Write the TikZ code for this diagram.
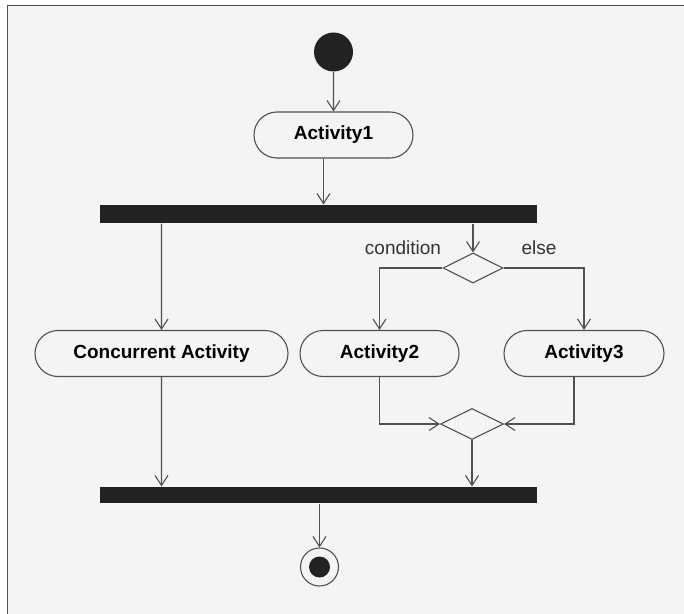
\documentclass[tikz,border=0pt]{standalone}
\usepackage{fontspec}
\setmainfont{Liberation Sans}
\usetikzlibrary{shapes.misc,shapes.geometric,arrows.meta}
\definecolor{linegray}{HTML}{505050}
\definecolor{bargray}{HTML}{222222}
\definecolor{panelgray}{HTML}{F4F4F4}
\begin{document}
\begin{tikzpicture}[x=1bp, y=-1bp, line width=1.1bp,
    activity/.style={rounded rectangle, draw=linegray, minimum height=46bp,
      inner xsep=0pt, font=\bfseries\fontsize{19bp}{22bp}\selectfont},
    bar/.style={fill=bargray, minimum width=437bp, minimum height=18bp,
      inner sep=0pt},
    decision/.style={diamond, draw=linegray, minimum width=60bp,
      minimum height=30bp, inner sep=0pt},
    final/.style={circle, draw=linegray, minimum size=38bp, inner sep=0pt,
      path picture={\fill[bargray] (path picture bounding box.center)
        circle (10.5bp);}},
    guard/.style={text=black!80, font=\fontsize{19bp}{22bp}\selectfont},
    flow/.style={draw=linegray, -{Straight Barb[length=10bp, width=13bp]}}]
        \useasboundingbox (0,0) rectangle (684,614);
        \fill[panelgray] (8,5) rectangle (684,614);
        \draw[linegray] (7.5,614) -- (7.5,5.5) -- (684,5.5);
        \node[circle, fill=bargray, minimum size=39bp, inner sep=0pt]
        (start) at (333.5,52) {};
        \node[activity, minimum width=159bp] (act1) at (333.5,135)
        {Activity1};
        \node[bar] (fork) at (318.5,214) {};
        \node[decision] (branch) at (473,268) {};
        \node[guard] (condlabel) at (403,248) {condition};
        \node[guard] (elselabel) at (539,248) {else};
        \node[activity, minimum width=253bp] (conc) at (161.5,353.5)
        {Concurrent Activity};
        \node[activity, minimum width=159bp] (act2) at (379.5,353.5)
        {Activity2};
        \node[activity, minimum width=160bp] (act3) at (584,353.5)
        {Activity3};
        \node[decision, minimum width=63bp, minimum height=31bp] (merge)
        at (472,424) {};
        \node[bar, minimum height=16bp] (join) at (318.5,495) {};
        \node[final] (end) at (319.5,567) {};
        \draw[flow] (start) -- (act1);
        \draw[flow] ([xshift=-10bp]act1.south) --
        ([xshift=-10bp]act1.south |- fork.north);
        \draw[flow] (conc |- fork.south) -- (conc);
        \draw[flow] (branch |- fork.south) -- (branch);
        \draw[flow] (branch.west) -| (act2);
        \draw[flow] (branch.east) -| (act3);
        \draw[flow] (act2) |- (merge.west);
        \draw[flow] ([xshift=-10bp]act3.south) |- (merge.east);
        \draw[flow] (conc) -- (conc |- join.north);
        \draw[flow] (merge) -- (merge |- join.north);
        \draw[flow] (end |- join.south) -- (end);
    \end{tikzpicture}
\end{document}
